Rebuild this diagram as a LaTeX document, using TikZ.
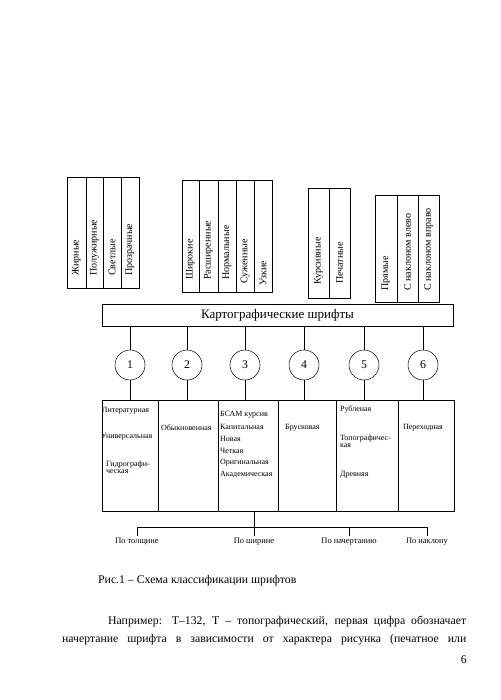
\documentclass[tikz,border=0pt]{standalone}
\usepackage{fontspec}
\setmainfont{Liberation Serif}
\newcommand\fs[1]{\fontsize{#1}{#1}\selectfont}
\newcommand\mkcell[6]{%
  \node[#6, inner sep=0pt, outer sep=0pt, anchor=north west,
        minimum width={(#4-#2)*1.19pt}, minimum height={(#5-#3)*1.19pt}] (#1) at (#2,#3) {};}
\tikzset{
  cellbox/.style={draw, line width=0.6pt},
  thickbox/.style={draw, line width=1.1pt},
  vtext/.style={rotate=90, anchor=west, inner sep=0pt, font=\fs{12}},
  ttext/.style={anchor=west, inner sep=0pt, font=\fs{9.5}, align=left},
  numcirc/.style={draw, circle, line width=0.6pt, minimum size=35.7pt, inner sep=0pt, font=\fs{14}},
  conn/.style={line width=0.6pt},
  btext/.style={inner sep=0pt, anchor=north, font=\fs{10}},
  ptext/.style={inner sep=0pt, anchor=west, font=\fs{14}}
}
\begin{document}
\begin{tikzpicture}[x=1.19pt,y=-1.19pt]
\path[use as bounding box, fill=white] (0,0) rectangle (500,700);

% group 1
\mkcell{a1}{67}{177}{86}{288}{cellbox}
\mkcell{a2}{86}{177}{103}{288}{cellbox}
\mkcell{a3}{103}{177}{121}{288}{cellbox}
\mkcell{a4}{121}{177}{139}{288}{cellbox}
\node[vtext] (ta1) at ([yshift=12*1.19pt]a1.south) {Жирные};
\node[vtext] (ta2) at ([yshift=12*1.19pt]a2.south) {Полужирные};
\node[vtext] (ta3) at ([yshift=12*1.19pt]a3.south) {Светлые};
\node[vtext] (ta4) at ([yshift=12*1.19pt]a4.south) {Прозрачные};

% group 2
\mkcell{b1}{182}{180}{199}{292}{cellbox}
\mkcell{b2}{199}{180}{218}{292}{cellbox}
\mkcell{b3}{218}{180}{236}{292}{cellbox}
\mkcell{b4}{236}{180}{254}{292}{cellbox}
\mkcell{b5}{254}{180}{272}{292}{cellbox}
\node[vtext] (tb1) at ([yshift=12*1.19pt]b1.south) {Широкие};
\node[vtext] (tb2) at ([yshift=12*1.19pt]b2.south) {Расширенные};
\node[vtext] (tb3) at ([yshift=12*1.19pt]b3.south) {Нормальные};
\node[vtext] (tb4) at ([yshift=8*1.19pt]b4.south) {Суженные};
\node[vtext] (tb5) at ([yshift=6*1.19pt]b5.south) {Узкие};

% group 3
\mkcell{c1}{308}{188}{329}{298}{cellbox}
\mkcell{c2}{329}{188}{350}{298}{cellbox}
\node[vtext] (tc1) at ([yshift=13*1.19pt]c1.south) {Курсивные};
\node[vtext] (tc2) at ([yshift=14*1.19pt]c2.south) {Печатные};

% group 4
\mkcell{d1}{375}{195}{397}{302}{thickbox}
\mkcell{d2}{397}{195}{418}{302}{thickbox}
\mkcell{d3}{418}{195}{439}{302}{thickbox}
\node[vtext] (td1) at ([yshift=11*1.19pt]d1.south) {Прямые};
\node[vtext] (td2) at ([yshift=11*1.19pt]d2.south) {С наклоном влево};
\node[vtext] (td3) at ([yshift=11*1.19pt]d3.south) {С наклоном вправо};

% main box
\mkcell{main}{102}{304}{453}{326}{cellbox}
\node[font=\fs{15.5}, inner sep=0pt] (maintext) at (main.center) {Картографические шрифты};

% circles
\node[numcirc] (n1) at (130,365) {1};
\node[numcirc] (n2) at (187,365) {2};
\node[numcirc] (n3) at (245,365) {3};
\node[numcirc] (n4) at (304,365) {4};
\node[numcirc] (n5) at (364,365) {5};
\node[numcirc] (n6) at (423,365) {6};

% table
\mkcell{k1}{102}{400}{158}{511}{cellbox}
\mkcell{k2}{158}{400}{218}{511}{cellbox}
\mkcell{k3}{218}{400}{278}{511}{cellbox}
\mkcell{k4}{278}{400}{336}{511}{cellbox}
\mkcell{k5}{336}{400}{398}{511}{cellbox}
\mkcell{k6}{398}{400}{454}{511}{cellbox}

\foreach \i in {1,...,6} {
  \draw[conn] (n\i.north |- main.south) -- (n\i.north);
  \draw[conn] (n\i.south) -- (n\i.south |- k\i.north);
}

% table texts
\node[ttext] (t11) at (102,411) {Литературная};
\node[ttext] (t12) at (101,437) {Универсальная};
\node[ttext] (t13) at (106,467) {Гидрографи-\\[-1pt]ческая};
\node[ttext] (t21) at (161,428) {Обыкновенная};
\node[ttext] (t31) at (220,415) {БСАМ курсив};
\node[ttext] (t32) at (220,427) {Капитальная};
\node[ttext] (t33) at (220,439) {Новая};
\node[ttext] (t34) at (220,451) {Четкая};
\node[ttext] (t35) at (220,463) {Оригинальная};
\node[ttext] (t36) at (220,475) {Академическая};
\node[ttext] (t41) at (285,428) {Брусковая};
\node[ttext] (t51) at (340,409) {Рубленая};
\node[ttext] (t52) at (340,441) {Топографичес-\\[-1pt]кая};
\node[ttext] (t53) at (340,475) {Древняя};
\node[ttext] (t61) at (403,428) {Переходная};

% bottom bracket
\coordinate (br) at (0,527);
\node[btext] (l1) at (137,538) {По толщине};
\node[btext] (l2) at (254,538) {По ширине};
\node[btext] (l3) at (349,538) {По начертанию};
\node[btext] (l4) at (427,538) {По наклону};
\draw[conn] ([yshift=2*1.19pt]l1.north) -- (l1.north |- br) -- (l4.north |- br) -- ([yshift=2*1.19pt]l4.north);
\draw[conn] (k3.south -| l2.north) -- ([yshift=2*1.19pt]l2.north);
\draw[conn] (l3.north |- br) -- ([yshift=2*1.19pt]l3.north);

% caption and text
\node[ptext] (cap) at (98,581) {Рис.1 – Схема классификации шрифтов};
\node[ptext] (p1) at (108,622) {\makebox[426pt][s]{Например: Т–132, Т – топографический, первая цифра обозначает}};
\node[ptext] (p2) at (62,640) {\makebox[481pt][s]{начертание шрифта в зависимости от характера рисунка (печатное или}};
\node[ptext, anchor=east] (pg) at (467,660) {6};
\end{tikzpicture}
\end{document}
